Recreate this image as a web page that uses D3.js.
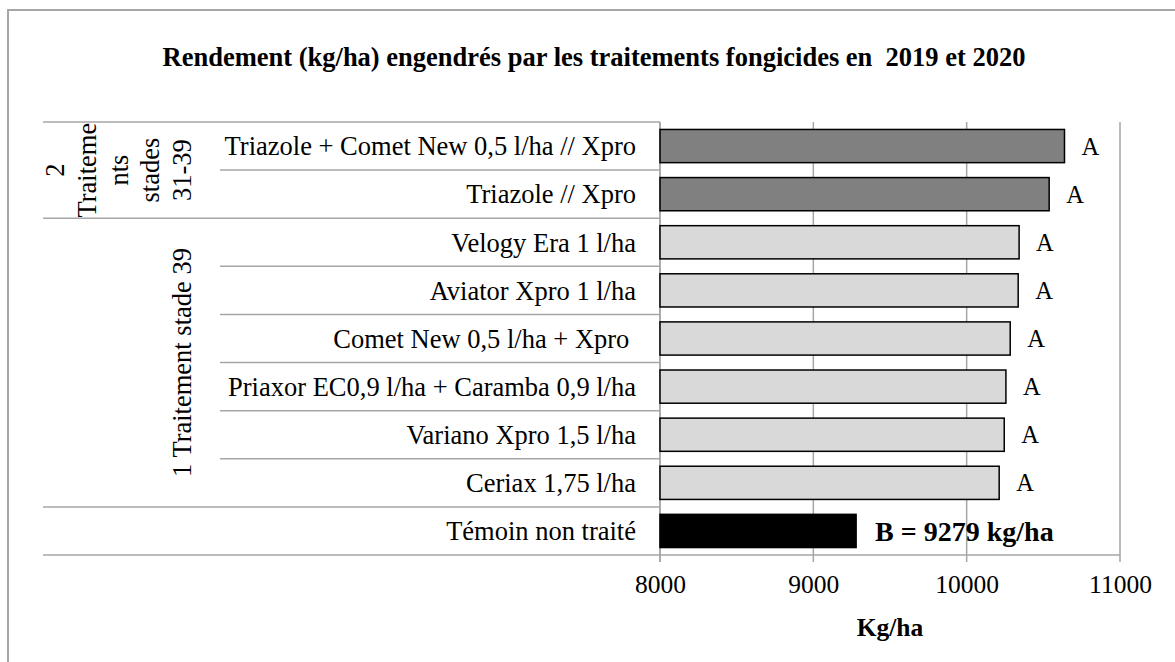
<!DOCTYPE html>
<html>
<head>
<meta charset="utf-8">
<script src="https://cdn.jsdelivr.net/npm/d3@7"></script>
<style>
  body { margin: 0; background: #fff; }
  svg { display: block; font-family: "Liberation Serif", "Times New Roman", serif; }
</style>
</head>
<body>
<svg id="chart" width="1175" height="662"></svg>
<script>
// treatments, top to bottom
const categories = [
  'Triazole + Comet New 0,5 l/ha // Xpro',
  'Triazole // Xpro',
  'Velogy Era 1 l/ha',
  'Aviator Xpro 1 l/ha',
  'Comet New 0,5 l/ha + Xpro ',
  'Priaxor EC0,9 l/ha + Caramba 0,9 l/ha',
  'Variano Xpro 1,5 l/ha',
  'Ceriax 1,75 l/ha',
  'Témoin non traité'
];
const yields = [10638, 10538, 10342, 10336, 10284, 10256, 10245, 10212, 9279];
const letters = ['A', 'A', 'A', 'A', 'A', 'A', 'A', 'A', 'B = 9279 kg/ha'];
const groupOf = [0, 0, 1, 1, 1, 1, 1, 1, 2];
const groups = [
  { lines: ['2', 'Traiteme', 'nts', 'stades', '31-39'], from: 0, to: 2 },
  { lines: ['1 Traitement stade 39'], from: 2, to: 8 },
  { lines: [], from: 8, to: 9 }
];
const xTicks = [8000, 9000, 10000, 11000];
const title = 'Rendement (kg/ha) engendrés par les traitements fongicides en  2019 et 2020';
const xTitle = 'Kg/ha';

const fills = ['#808080', '#d9d9d9', '#000000'];
const lineCol = '#a6a6a6';

const svg = d3.select('#chart');

// outer frame (right / bottom edges fall outside the picture)
svg.append('rect')
  .attr('x', 8).attr('y', 10).attr('width', 1200).attr('height', 700)
  .attr('fill', 'none').attr('stroke', lineCol).attr('stroke-width', 2);

const plotL = 660, plotR = 1120, plotT = 122, plotB = 555;
const catLeft = 220, groupLeft = 43;

const x = d3.scaleLinear().domain([8000, 11000]).range([plotL, plotR]);
const y = d3.scaleBand().domain(categories).range([plotT, plotB])
  .paddingInner(0.31).paddingOuter(0.155);
const step = y.step();

// title
svg.append('text')
  .attr('x', 594).attr('y', 66)
  .attr('text-anchor', 'middle')
  .style('font-size', '26.5px').style('font-weight', 'bold')
  .style('white-space', 'pre')
  .text(title);

// vertical grid + ticks below the axis
svg.append('g').selectAll('line')
  .data(xTicks)
  .join('line')
  .attr('x1', d => x(d)).attr('x2', d => x(d))
  .attr('y1', plotT).attr('y2', plotB + 7)
  .attr('stroke', lineCol).attr('stroke-width', 1.5);

// category table: row separators and group separators
const rowLines = d3.range(0, categories.length + 1);
svg.append('g').selectAll('line')
  .data(rowLines)
  .join('line')
  .attr('x1', i => groups.some(g => g.from === i || g.to === i) ? groupLeft : catLeft)
  .attr('x2', i => i === categories.length ? plotR : plotL)
  .attr('y1', i => plotT + i * step).attr('y2', i => plotT + i * step)
  .attr('stroke', lineCol).attr('stroke-width', 1.5);

// category axis line
svg.append('line')
  .attr('x1', plotL).attr('x2', plotL)
  .attr('y1', plotT).attr('y2', plotB + 7)
  .attr('stroke', lineCol).attr('stroke-width', 1.5);

// bars
svg.append('g').selectAll('rect')
  .data(categories)
  .join('rect')
  .attr('x', x(8000))
  .attr('y', d => y(d))
  .attr('width', (d, i) => x(yields[i]) - x(8000))
  .attr('height', y.bandwidth())
  .attr('fill', (d, i) => fills[groupOf[i]])
  .attr('stroke', '#000').attr('stroke-width', 1.5);

// significance letters
svg.append('g').selectAll('text')
  .data(categories)
  .join('text')
  .attr('x', (d, i) => x(yields[i]) + (i === categories.length - 1 ? 19 : 17))
  .attr('y', d => y(d) + y.bandwidth() / 2)
  .attr('dy', '0.35em')
  .style('font-size', (d, i) => i === categories.length - 1 ? '28px' : '24.5px')
  .style('font-weight', (d, i) => i === categories.length - 1 ? 'bold' : 'normal')
  .text((d, i) => letters[i]);

// category labels
svg.append('g').selectAll('text')
  .data(categories)
  .join('text')
  .attr('x', 636)
  .attr('y', d => y(d) + y.bandwidth() / 2)
  .attr('dy', '0.35em')
  .attr('text-anchor', 'end')
  .style('font-size', '26.5px')
  .style('white-space', 'pre')
  .text(d => d);

// group labels, rotated, last line sitting next to the category column
const lineH = 31.8;
groups.forEach(g => {
  const cy = plotT + (g.from + g.to) / 2 * step;
  const n = g.lines.length;
  g.lines.forEach((t, k) => {
    const cx = 182 - (n - 1 - k) * lineH;
    svg.append('text')
      .attr('transform', `translate(${cx},${cy}) rotate(-90)`)
      .attr('text-anchor', 'middle')
      .attr('dy', '0.35em')
      .style('font-size', '26.5px')
      .text(t);
  });
});

// x axis tick labels
const xAxis = d3.axisBottom(x).tickValues(xTicks).tickSize(0).tickPadding(0).tickFormat(d3.format('d'));
const ax = svg.append('g').attr('transform', `translate(0,${plotB})`).call(xAxis);
ax.select('.domain').remove();
ax.selectAll('text')
  .attr('y', 38).attr('dy', 0)
  .attr('fill', '#000')
  .style('font-size', '25.5px')
  .style('font-family', '"Liberation Serif", "Times New Roman", serif');

svg.append('text')
  .attr('x', (plotL + plotR) / 2).attr('y', 636)
  .attr('text-anchor', 'middle')
  .style('font-size', '25.5px').style('font-weight', 'bold')
  .text(xTitle);
</script>
</body>
</html>
